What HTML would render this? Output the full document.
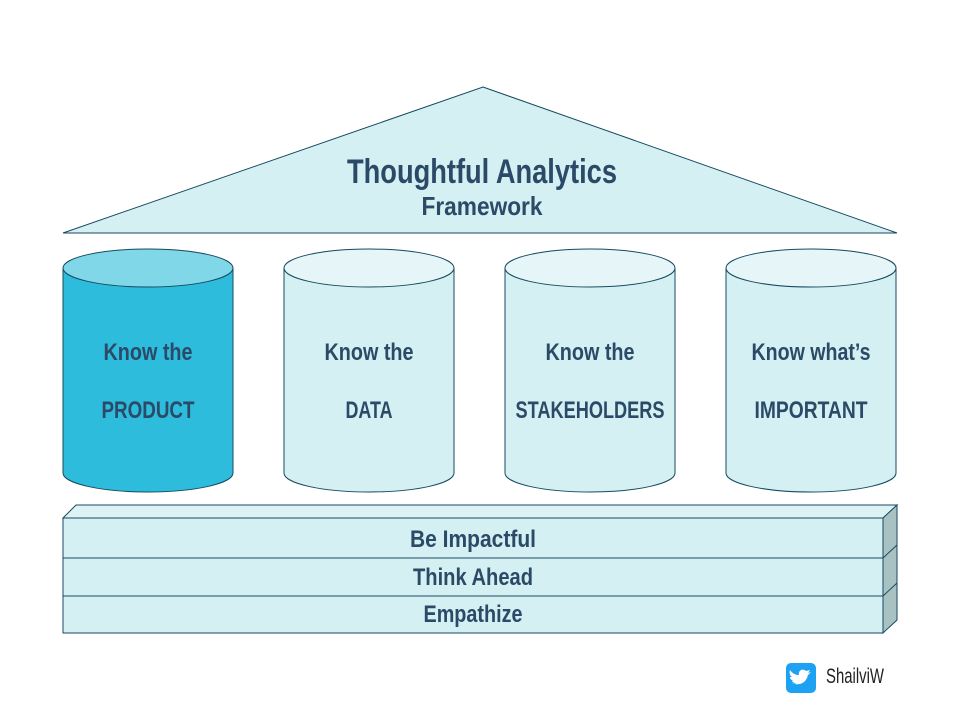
<!DOCTYPE html>
<html><head><meta charset="utf-8"><style>
html,body{margin:0;padding:0;background:#fff;width:960px;height:720px;overflow:hidden}
text{font-family:"Liberation Sans Narrow","Liberation Sans",sans-serif;font-weight:bold;fill:#2b4a68}
</style></head><body>
<svg width="960" height="720" viewBox="0 0 960 720" xmlns="http://www.w3.org/2000/svg">
<g stroke="#164a60" stroke-width="1">
<polygon points="483,87 897,233 63,233" fill="#d5f0f2"/>
<path d="M63,268 L63,473 A85,19 0 0 0 233,473 L233,268" fill="#2dbcdc"/>
<ellipse cx="148" cy="268" rx="85" ry="19" fill="#7fd7e8"/>
<path d="M284,268 L284,473 A85,19 0 0 0 454,473 L454,268" fill="#d5f0f2"/>
<ellipse cx="369" cy="268" rx="85" ry="19" fill="#e6f6f8"/>
<path d="M505,268 L505,473 A85,19 0 0 0 675,473 L675,268" fill="#d5f0f2"/>
<ellipse cx="590" cy="268" rx="85" ry="19" fill="#e6f6f8"/>
<path d="M726,268 L726,473 A85,19 0 0 0 896,473 L896,268" fill="#d5f0f2"/>
<ellipse cx="811" cy="268" rx="85" ry="19" fill="#e6f6f8"/>
<polygon points="63,518 76,505 897,505 883,518" fill="#ddf2f4"/>
<polygon points="883,518 897,505 897,620 883,633" fill="#a8c2c4"/>
<rect x="63" y="518" width="820" height="40" fill="#d5f0f2"/>
<rect x="63" y="558" width="820" height="38" fill="#d5f0f2"/>
<rect x="63" y="596" width="820" height="37" fill="#d5f0f2"/>
<line x1="883" y1="558" x2="897" y2="545"/>
<line x1="883" y1="596" x2="897" y2="583"/>
</g>
<text x="482" y="183" font-size="34" text-anchor="middle" textLength="270" lengthAdjust="spacingAndGlyphs">Thoughtful Analytics</text>
<text x="482" y="215" font-size="26" text-anchor="middle" textLength="121" lengthAdjust="spacingAndGlyphs">Framework</text>
<text x="148" y="360" font-size="24" text-anchor="middle" textLength="89" lengthAdjust="spacingAndGlyphs">Know the</text>
<text x="148" y="418" font-size="24" text-anchor="middle" textLength="93" lengthAdjust="spacingAndGlyphs">PRODUCT</text>
<text x="369" y="360" font-size="24" text-anchor="middle" textLength="89" lengthAdjust="spacingAndGlyphs">Know the</text>
<text x="369" y="418" font-size="24" text-anchor="middle" textLength="47" lengthAdjust="spacingAndGlyphs">DATA</text>
<text x="590" y="360" font-size="24" text-anchor="middle" textLength="89" lengthAdjust="spacingAndGlyphs">Know the</text>
<text x="590" y="418" font-size="24" text-anchor="middle" textLength="149" lengthAdjust="spacingAndGlyphs">STAKEHOLDERS</text>
<text x="811" y="360" font-size="24" text-anchor="middle" textLength="119" lengthAdjust="spacingAndGlyphs">Know what’s</text>
<text x="811" y="418" font-size="24" text-anchor="middle" textLength="113" lengthAdjust="spacingAndGlyphs">IMPORTANT</text>
<text x="473" y="547" font-size="24" text-anchor="middle" textLength="126" lengthAdjust="spacingAndGlyphs">Be Impactful</text>
<text x="473" y="585" font-size="24" text-anchor="middle" textLength="120" lengthAdjust="spacingAndGlyphs">Think Ahead</text>
<text x="473" y="622" font-size="24" text-anchor="middle" textLength="99" lengthAdjust="spacingAndGlyphs">Empathize</text>
<rect x="786" y="663" width="30" height="30" rx="5" fill="#1da1f2"/>
<path d="M792,683 C798,686 806,684 808,675 L811,672 L808,673 L810,670 L806,671 C803,668 798,670 799,675 C795,675 792,673 790,670 C789,673 790,676 792,677 L790,677 C790,679 792,681 794,681 L792,681 C793,683 795,683 796,683 C795,684 793,684 792,683 Z" fill="#fff"/>
<text x="826" y="683" font-size="21" style="fill:#222;font-weight:normal" textLength="58" lengthAdjust="spacingAndGlyphs">ShailviW</text>
</svg>
</body></html>
